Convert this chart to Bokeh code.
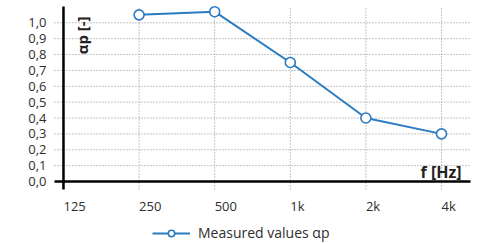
import math
from bokeh.plotting import figure
from bokeh.models import ColumnDataSource, Legend, LegendItem, Range1d
from bokeh.core.properties import value
from bokeh.embed import file_html
from bokeh.resources import INLINE

# ---- data ----
freq_labels = ["125", "250", "500", "1k", "2k", "4k"]
measured_freqs = ["250", "500", "1k", "2k", "4k"]
alpha_p = [1.05, 1.07, 0.75, 0.40, 0.30]
y_ticks = [0.0, 0.1, 0.2, 0.3, 0.4, 0.5, 0.6, 0.7, 0.8, 0.9, 1.0]
y_tick_labels = ["0,0", "0,1", "0,2", "0,3", "0,4", "0,5", "0,6", "0,7", "0,8", "0,9", "1,0"]
series_name = "Measured values αp"
y_title = "αp [-]"
x_title = "f [Hz]"

FONT = "Open Sans"
BLUE = "#2b7bc0"
TEXT = "#2e2e2e"
GRID = "#8c8c8c"

# view (whole canvas is the data frame)
VIEW_X = (-0.833, 5.582)
VIEW_Y = (-0.3907, 1.1405)
# extent of the plotting area's grid / axis lines
AX_X = (-0.119, 5.384)
AX_Y = (-0.0504, 1.1027)

x_pos = list(range(len(freq_labels)))
meas_x = [freq_labels.index(f) for f in measured_freqs]

p = figure(width=485, height=243, output_backend="svg", toolbar_location=None,
           x_range=Range1d(*VIEW_X), y_range=Range1d(*VIEW_Y),
           min_border=0)
p.xaxis.visible = False
p.yaxis.visible = False
p.xgrid.visible = False
p.ygrid.visible = False
p.outline_line_color = None

# dotted grid lines
nx = len(x_pos)
p.segment(x0=x_pos[1:], y0=[AX_Y[0]] * (nx - 1), x1=x_pos[1:], y1=[AX_Y[1]] * (nx - 1),
          line_color=GRID, line_dash="1 2", line_width=1)
ny = len(y_ticks)
p.segment(x0=[AX_X[0]] * (ny - 1), y0=y_ticks[1:], x1=[AX_X[1]] * (ny - 1), y1=y_ticks[1:],
          line_color=GRID, line_dash="1 2", line_width=1)

# axis lines (crossing at origin)
p.segment(x0=[x_pos[0], AX_X[0]], y0=[AX_Y[0], y_ticks[0]],
          x1=[x_pos[0], AX_X[1]], y1=[AX_Y[1], y_ticks[0]],
          line_color="black", line_width=2.5)

src = ColumnDataSource(dict(x=meas_x, y=alpha_p))
ln = p.line("x", "y", source=src, line_color=BLUE, line_width=2)
sc = p.scatter("x", "y", source=src, size=10, fill_color="white",
               line_color=BLUE, line_width=1.6)

# y tick labels
p.text(x=[AX_X[0]] * ny, y=y_ticks, text=y_tick_labels, x_offset=-8, y_offset=0,
       text_align="right", text_baseline="alphabetic", text_font=value(FONT),
       text_font_size="13px", text_color=TEXT)
# x tick labels
p.text(x=x_pos, y=[y_ticks[0]] * nx, text=freq_labels, x_offset=0, y_offset=25,
       text_align="left", text_baseline="alphabetic", text_font=value(FONT),
       text_font_size="13px", text_color=TEXT)

# axis titles
p.text(x=[x_pos[0]], y=[1.04], text=[y_title], angle=math.pi / 2, x_offset=9,
       text_align="right", text_baseline="top", text_font=value(FONT),
       text_font_size="15px", text_font_style="bold", text_color="#222222")
p.text(x=[AX_X[1]], y=[y_ticks[0]], text=[x_title], x_offset=-9, y_offset=-9,
       text_align="right", text_baseline="alphabetic", text_font=value(FONT),
       text_font_size="16px", text_font_style="bold", text_color="#222222")

legend = Legend(items=[LegendItem(label=series_name, renderers=[ln, sc])],
                location=(152, 1), orientation="horizontal",
                glyph_width=38, glyph_height=16, label_standoff=8,
                padding=0, margin=0, border_line_color=None,
                background_fill_alpha=0, label_text_font=FONT,
                label_text_font_size="14px", label_text_color=TEXT)
p.add_layout(legend, "center")

open("out.html", "w").write(file_html(p, INLINE))
